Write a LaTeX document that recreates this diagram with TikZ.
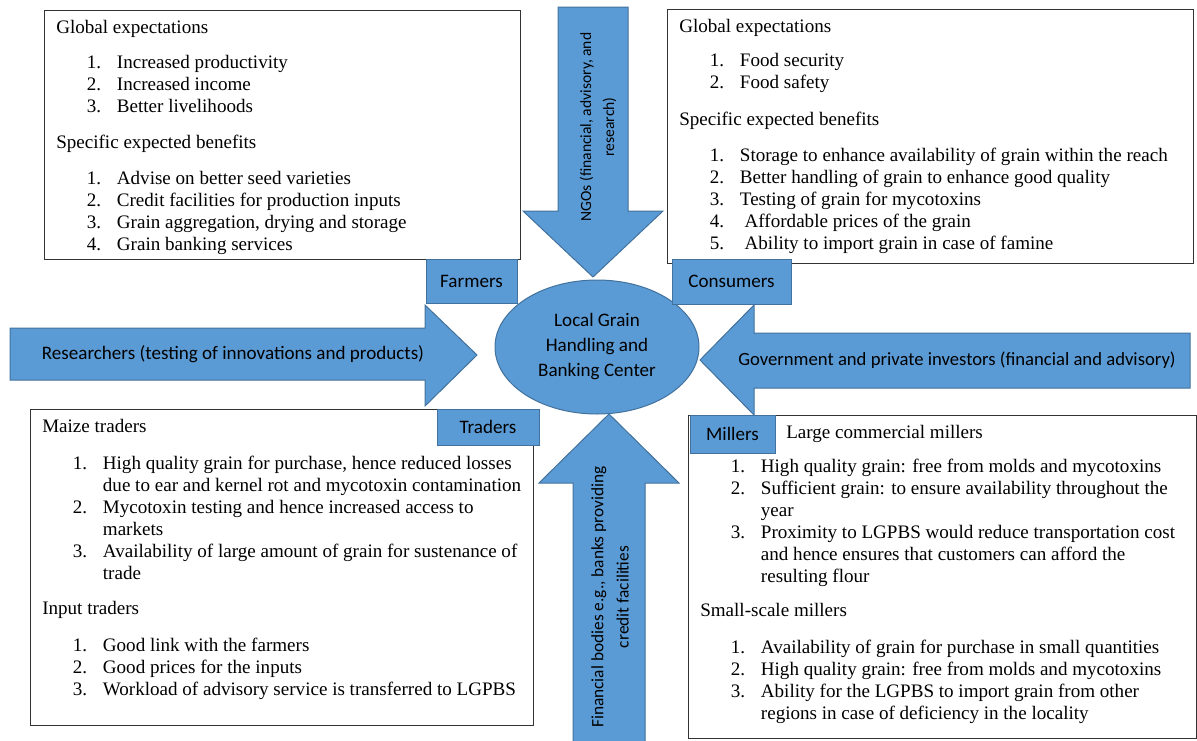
\documentclass[tikz,border=0pt]{standalone}
\usepackage{fontspec}
\setmainfont{Liberation Serif}
\newfontfamily\calibri{Carlito}
\usetikzlibrary{shapes.geometric, fit}
\definecolor{shapeblue}{HTML}{5B9BD5}
\definecolor{shapeedge}{HTML}{41719C}
\newcommand{\itm}[2]{\hspace*{23pt}\makebox[22.5pt][l]{#1}#2}
\newcommand{\cnt}[1]{\hspace*{45.5pt}#1}
\tikzset{
  infobox/.style={draw=black!80, fill=white, line width=0.75pt, inner sep=0pt},
  listtext/.style={anchor=base west, inner sep=0pt, font=\fontsize{14.3}{16.5}\selectfont},
  blockarrow/.style={fill=shapeblue, draw=shapeedge, line width=0.75pt, line join=miter},
  tag/.style={fill=shapeblue, draw=shapeedge, line width=0.75pt, inner sep=0pt, font=\calibri\fontsize{14.3}{16}\selectfont},
  flowtext/.style={font=\calibri\fontsize{14.3}{17.5}\selectfont, align=center, inner sep=0pt},
  hub/.style={ellipse, fill=shapeblue, draw=shapeedge, line width=0.75pt, inner sep=0pt,
    minimum width=153pt, minimum height=100.5pt, align=center, font=\calibri\fontsize{14.3}{18.75}\selectfont}
}

\begin{document}
\begin{tikzpicture}[x=0.75pt, y=-0.75pt]
\useasboundingbox (0,0) rectangle (1197,740);
%% boxes
  \node[infobox, fit={(44,10) (520,259)}] (farmbox) {};
  \node[infobox, fit={(667,9) (1193,263)}] (consbox) {};
  \node[infobox, fit={(30,409) (533,725)}] (tradebox) {};
  \node[infobox, fit={(688,415) (1196,738)}] (millbox) {};
%% farmers
  \node[listtext] (farmtext) at (56,33) {\begin{tabular}[t]{@{}l@{}}
    Global expectations\\[9.75pt]
    \itm{1.}{Increased productivity}\\
    \itm{2.}{Increased income}\\
    \itm{3.}{Better livelihoods}\\[10.5pt]
    Specific expected benefits\\[10.5pt]
    \itm{1.}{Advise on better seed varieties}\\
    \itm{2.}{Credit facilities for production inputs}\\
    \itm{3.}{Grain aggregation, drying and storage}\\
    \itm{4.}{Grain banking services}
  \end{tabular}};
%% consumers
  \node[listtext] (constext) at (679,32) {\begin{tabular}[t]{@{}l@{}}
    Global expectations\\[9pt]
    \itm{1.}{Food security}\\
    \itm{2.}{Food safety}\\[11.25pt]
    Specific expected benefits\\[10.5pt]
    \itm{1.}{Storage to enhance availability of grain within the reach}\\
    \itm{2.}{Better handling of grain to enhance good quality}\\
    \itm{3.}{Testing of grain for mycotoxins}\\
    \itm{4.}{\ Affordable prices of the grain}\\
    \itm{5.}{\ Ability to import grain in case of famine}
  \end{tabular}};
%% traders
  \node[listtext] (tradetext) at (42,432) {\begin{tabular}[t]{@{}l@{}}
    Maize traders\\[11.25pt]
    \itm{1.}{High quality grain for purchase, hence reduced losses}\\
    \cnt{due to ear and kernel rot and mycotoxin contamination}\\
    \itm{2.}{Mycotoxin testing and hence increased access to}\\
    \cnt{markets}\\
    \itm{3.}{Availability of large amount of grain for sustenance of}\\
    \cnt{trade}\\[9.75pt]
    Input traders\\[11.25pt]
    \itm{1.}{Good link with the farmers}\\
    \itm{2.}{Good prices for the inputs}\\
    \itm{3.}{Workload of advisory service is transferred to LGPBS}
  \end{tabular}};
%% millers
  \node[listtext] (milltext) at (700,438) {\begin{tabular}[t]{@{}l@{}}
    \hspace*{64.5pt}Large commercial millers\\[9pt]
    \itm{1.}{High quality grain: free from molds and mycotoxins}\\
    \itm{2.}{Sufficient grain: to ensure availability throughout the}\\
    \cnt{year}\\
    \itm{3.}{Proximity to LGPBS would reduce transportation cost}\\
    \cnt{and hence ensures that customers can afford the}\\
    \cnt{resulting flour}\\[9pt]
    Small-scale millers\\[11.25pt]
    \itm{1.}{Availability of grain for purchase in small quantities}\\
    \itm{2.}{High quality grain: free from molds and mycotoxins}\\
    \itm{3.}{Ability for the LGPBS to import grain from other}\\
    \cnt{regions in case of deficiency in the locality}
  \end{tabular}};
%% block arrows
  \draw[blockarrow] (558,7) -- (628,7) -- (628,211) -- (663,211) -- (593,277)
    -- (523,211) -- (558,211) -- cycle;
  \node[flowtext, rotate=90, font=\calibri\fontsize{11.7}{17.25}\selectfont] (ngos) at (598,127)
    {NGOs (financial, advisory, and\\research)};
  \draw[blockarrow] (10,328) -- (425,328) -- (425,305) -- (477,355) -- (425,406)
    -- (425,380) -- (10,380) -- cycle;
  \node[flowtext] (research) at (233,354) {Researchers (testing of innovations and products)};
  \draw[blockarrow] (1190,333) -- (754,333) -- (754,305) -- (700,360) -- (754,415)
    -- (754,388) -- (1190,388) -- cycle;
  \node[flowtext, font=\calibri\fontsize{14}{17}\selectfont] (govt) at (957,360)
    {Government and private investors (financial and advisory)};
  \draw[blockarrow] (573,742) -- (573,483) -- (539,483) -- (609,414) -- (679,483)
    -- (645,483) -- (645,742) -- cycle;
  \node[flowtext, rotate=90, font=\calibri\fontsize{13}{19}\selectfont] (finance) at (610,597)
    {Financial bodies e.g., banks providing\\credit facilities};
%% centre and tags
  \node[hub] (hub) at (597,347) {Local Grain\\Handling and\\Banking Center};
  \node[tag, minimum width=68.25pt, minimum height=33pt] (farmers) at (471.5,281) {Farmers};
  \node[tag, minimum width=89.25pt, minimum height=33.75pt] (consumers) at (731.5,281.5) {Consumers};
  \node[tag, minimum width=76.5pt, minimum height=27pt] (traders) at (488,427) {Traders};
  \node[tag, minimum width=63.75pt, minimum height=28.5pt] (millers) at (732.5,434) {Millers};
\end{tikzpicture}
\end{document}
